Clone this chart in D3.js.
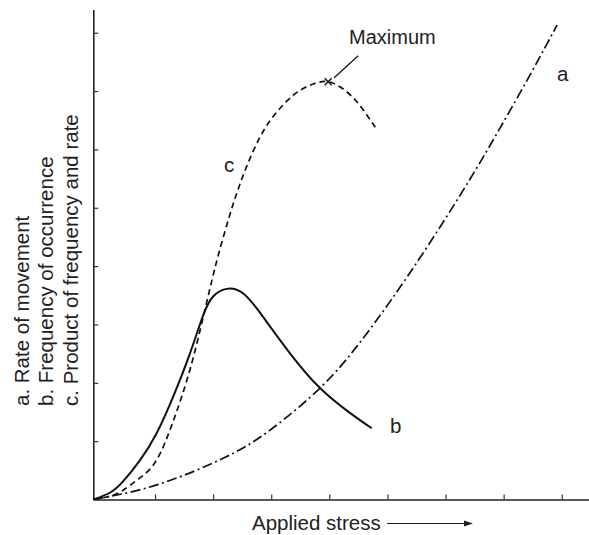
<!DOCTYPE html>
<html lang="en">
<head>
<meta charset="utf-8">
<title>Applied stress</title>
<script src="https://d3js.org/d3.v7.min.js"></script>
<style>
  body { margin: 0; background: #fff; }
  svg text { font-family: "Liberation Sans", Arial, Helvetica, sans-serif; fill: #222; }
</style>
</head>
<body>
<svg id="g1"></svg>
<script>
    // values in tick units (x: stress, y: response)
    const xTicks = [1, 2, 3, 4, 5, 6, 7, 8];
    const yTicks = [1, 2, 3, 4, 5, 6, 7, 8];

    const rateA = [[-0.06, 0], [1.03, 0.25], [2.18, 0.71], [2.98, 1.19], [3.84, 1.91], [4.47, 2.62],
                   [5.05, 3.40], [5.73, 4.40], [6.42, 5.49], [6.94, 6.37], [7.45, 7.27], [7.92, 8.13]];
    const freqB = [[-0.06, 0], [0.23, 0.12], [0.45, 0.31], [0.74, 0.67], [1.03, 1.14], [1.32, 1.78], [1.60, 2.50],
                   [1.83, 3.16], [2.00, 3.48], [2.23, 3.61], [2.52, 3.53], [2.86, 3.13], [3.32, 2.51],
                   [3.84, 1.91], [4.36, 1.48], [4.73, 1.22]];
    const prodC = [[-0.06, 0], [0.23, 0.06], [0.45, 0.16], [0.74, 0.37], [1.03, 0.68], [1.32, 1.36], [1.60, 2.22],
                   [1.83, 3.13], [1.98, 3.76], [2.09, 4.19], [2.24, 4.72], [2.38, 5.17], [2.55, 5.64],
                   [2.77, 6.14], [3.03, 6.56], [3.38, 6.93], [3.67, 7.10], [3.98, 7.16], [4.31, 6.98],
                   [4.56, 6.71], [4.79, 6.38]];
    const maxPoint = [3.98, 7.16];

    const legendLines = ["a. Rate of movement", "b. Frequency of occurrence", "c. Product of frequency and rate"];

    let width = 589, height = 535;

    let svg = d3.select("#g1")
        .attr("width", width)
        .attr("height", height);

    let x = d3.scaleLinear().domain([-0.062, 8.5]).range([93.3, 590.8]);
    let y = d3.scaleLinear().domain([0, 8.4]).range([499.5, 9.4]);

    // axes, ticks pointing inward
    svg.append("g")
        .attr("transform", `translate(0,${y(0)})`)
        .call(d3.axisBottom(x).tickValues(xTicks).tickSize(-5).tickSizeOuter(0).tickFormat(""));
    svg.append("g")
        .attr("transform", `translate(${x(-0.062)},0)`)
        .call(d3.axisLeft(y).tickValues(yTicks).tickSize(-5).tickSizeOuter(0).tickFormat(""));
    svg.selectAll(".domain").attr("stroke", "#222").attr("stroke-width", 1.6);
    svg.selectAll(".tick line").attr("stroke", "#333").attr("stroke-width", 1.2);

    let line = d3.line()
        .x(d => x(d[0]))
        .y(d => y(d[1]))
        .curve(d3.curveNatural);

    svg.append("path").datum(rateA)
        .attr("d", line).attr("fill", "none").attr("stroke", "#111")
        .attr("stroke-width", 1.7).attr("stroke-dasharray", "10,3.5,2,3.5");
    svg.append("path").datum(freqB)
        .attr("d", line).attr("fill", "none").attr("stroke", "#111")
        .attr("stroke-width", 2);
    svg.append("path").datum(prodC)
        .attr("d", line).attr("fill", "none").attr("stroke", "#111")
        .attr("stroke-width", 1.7).attr("stroke-dasharray", "6,4");

    // maximum marker
    let mx = x(maxPoint[0]), my = y(maxPoint[1]);
    svg.append("path")
        .attr("d", `M${mx - 3.5},${my - 3.5}L${mx + 3.5},${my + 3.5}M${mx - 3.5},${my + 3.5}L${mx + 3.5},${my - 3.5}`)
        .attr("stroke", "#111").attr("stroke-width", 1.4);
    svg.append("line")
        .attr("x1", mx + 6).attr("y1", my - 4)
        .attr("x2", mx + 30).attr("y2", my - 26)
        .attr("stroke", "#111").attr("stroke-width", 1.2);
    svg.append("text").attr("x", 349).attr("y", 44)
        .attr("font-size", 20).text("Maximum");

    // curve labels
    svg.append("text").attr("x", 557).attr("y", 81).attr("font-size", 20.5).text("a");
    svg.append("text").attr("x", 390).attr("y", 433).attr("font-size", 20.5).text("b");
    svg.append("text").attr("x", 224).attr("y", 172).attr("font-size", 20.5).text("c");

    // x axis title with arrow
    svg.append("text").attr("x", 252).attr("y", 529.5)
        .attr("font-size", 20.5).text("Applied stress");
    svg.append("line").attr("x1", 387).attr("y1", 523.5).attr("x2", 466).attr("y2", 523.5)
        .attr("stroke", "#222").attr("stroke-width", 1.2);
    svg.append("path").attr("d", "M473,523.5L464,520.5L464,526.5Z").attr("fill", "#222");

    // rotated legend text on the left
    svg.selectAll(".legend")
        .data(legendLines)
        .enter().append("text")
            .attr("class", "legend")
            .attr("font-size", 20.5)
            .attr("transform", (d, i) => `translate(${28.5 + i * 24.7},406) rotate(-90)`)
            .text(d => d);
</script>
</body>
</html>
